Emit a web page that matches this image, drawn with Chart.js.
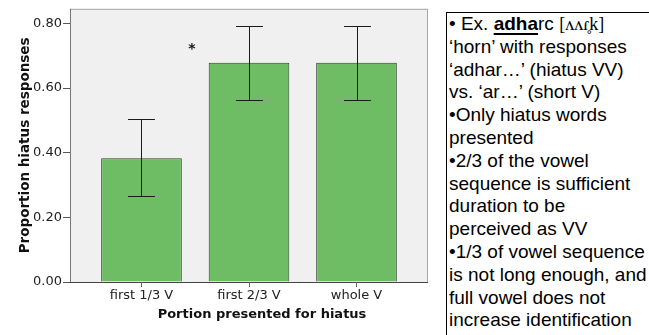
<!DOCTYPE html>
<html>
<head>
<meta charset="utf-8">
<script src="https://cdn.jsdelivr.net/npm/chart.js@4/dist/chart.umd.min.js"></script>
<style>
  html, body { margin: 0; padding: 0; background: #fff; }
  #wrap { position: relative; width: 649px; height: 335px; overflow: hidden; }
  #plot { position: absolute; left: 0; top: 0; width: 440px; height: 335px; }
  #notes {
    position: absolute; left: 446px; top: 12px; width: 220px; height: 340px;
    border-left: 1px solid #000; border-top: 1px solid #000;
    font-family: "Liberation Sans", Arial, sans-serif; font-size: 19px;
    line-height: 22.8px; color: #000; padding: 0 0 0 2px; box-sizing: border-box;
    white-space: nowrap;
  }
  #notes .inner { margin-top: 0; }
  #notes b { text-decoration: underline; text-decoration-thickness: 2px; text-underline-offset: 3px; }
  #notes .ipa { font-family: "Liberation Serif", "DejaVu Serif", serif; font-size: 18px; }
</style>
</head>
<body>
<div id="wrap">
  <div id="plot"><canvas id="chart" width="440" height="335"></canvas></div>
  <div id="notes"><div class="inner">
    • Ex. <b>adha</b>rc <span class="ipa">[ʌʌɾ̥k]</span><br>
    ‘horn’ with responses<br>
    ‘adhar…’ (hiatus VV)<br>
    vs. ‘ar…’ (short V)<br>
    •Only hiatus words<br>
    presented<br>
    •2/3 of the vowel<br>
    sequence is sufficient<br>
    duration to be<br>
    perceived as VV<br>
    •1/3 of vowel sequence<br>
    is not long enough, and<br>
    full vowel does not<br>
    increase identification
  </div></div>
</div>
<script>
// Portion of the vowel sequence presented, and the share of hiatus responses
const categories = ['first 1/3 V', 'first 2/3 V', 'whole V'];
const proportions = [0.383, 0.678, 0.678];
const ciLower = [0.265, 0.564, 0.564];
const ciUpper = [0.503, 0.793, 0.793];
const yTicks = [0, 0.2, 0.4, 0.6, 0.8];
const sigMark = { text: '*', x: 0.47, y: 0.732 };

const axisFont = { family: 'DejaVu Sans', size: 13 };
const titleFont = { family: 'DejaVu Sans', size: 13.5, weight: 'bold' };

// Grey plot panel with its frame
const panel = {
  id: 'panel',
  beforeDraw(chart) {
    const { ctx, chartArea: a } = chart;
    ctx.save();
    ctx.fillStyle = '#f0f0f0';
    ctx.fillRect(a.left, a.top, a.right - a.left, a.bottom - a.top);
    ctx.lineWidth = 1;
    ctx.strokeStyle = '#a8a8a8';
    ctx.strokeRect(a.left + 0.5, a.top + 0.5, a.right - a.left - 1, a.bottom - a.top);
    ctx.strokeStyle = '#777';
    ctx.beginPath();
    ctx.moveTo(a.left + 0.5, a.top);
    ctx.lineTo(a.left + 0.5, a.bottom);
    ctx.stroke();
    ctx.strokeStyle = '#444';
    ctx.beginPath();
    ctx.moveTo(a.left, a.bottom + 0.5);
    ctx.lineTo(a.right, a.bottom + 0.5);
    ctx.stroke();
    ctx.restore();
  }
};

// Confidence-interval whiskers, significance mark and x-axis title
const overlay = {
  id: 'overlay',
  afterDatasetsDraw(chart) {
    const { ctx, chartArea: a } = chart;
    const xs = chart.scales.x, ys = chart.scales.y;
    const bars = chart.getDatasetMeta(0).data;
    ctx.save();
    ctx.strokeStyle = '#1a1a1a';
    ctx.lineWidth = 1;
    categories.forEach((c, i) => {
      const x = Math.round(xs.getPixelForValue(i)) + 0.5;
      const half = bars[i].width / 6;
      const yHi = Math.round(ys.getPixelForValue(ciUpper[i])) + 0.5;
      const yLo = Math.round(ys.getPixelForValue(ciLower[i])) + 0.5;
      ctx.beginPath();
      ctx.moveTo(x, yHi); ctx.lineTo(x, yLo);
      ctx.moveTo(x - half, yHi); ctx.lineTo(x + half, yHi);
      ctx.moveTo(x - half, yLo); ctx.lineTo(x + half, yLo);
      ctx.stroke();
    });
    ctx.fillStyle = '#111';
    ctx.font = 'bold 14px "DejaVu Sans"';
    ctx.textAlign = 'center';
    ctx.textBaseline = 'alphabetic';
    ctx.fillText(sigMark.text, xs.getPixelForValue(sigMark.x), ys.getPixelForValue(sigMark.y) + 7.5);

    ctx.font = 'bold 13px "DejaVu Sans"';
    ctx.textBaseline = 'middle';
    ctx.fillText('Portion presented for hiatus', (a.left + a.right) / 2 + 13, 315);
    ctx.restore();
  }
};

new Chart(document.getElementById('chart'), {
  type: 'bar',
  data: {
    datasets: [{
      data: proportions.map((v, i) => ({ x: i, y: v })),
      backgroundColor: '#6ebc64',
      borderColor: '#2f3d2d',
      borderWidth: 1,
      borderSkipped: 'bottom',
      categoryPercentage: 1,
      barPercentage: 0.75
    }]
  },
  options: {
    responsive: false,
    animation: false,
    layout: { padding: { left: 0, top: 8, right: 12, bottom: 0 } },
    plugins: { legend: { display: false }, tooltip: { enabled: false } },
    scales: {
      x: {
        type: 'linear',
        min: -0.665,
        max: 2.665,
        offset: false,
        afterBuildTicks: s => { s.ticks = categories.map((c, i) => ({ value: i })); },
        afterFit: s => { s.height = 53; },
        ticks: {
          callback: v => categories[v],
          font: axisFont, color: '#222', padding: 1, maxRotation: 0, autoSkip: false
        },
        grid: { offset: false, drawOnChartArea: false, drawTicks: true, tickLength: 5, color: '#666' },
        border: { display: false }
      },
      y: {
        min: 0,
        max: 0.845,
        afterBuildTicks: s => { s.ticks = yTicks.map(v => ({ value: v })); },
        afterFit: s => { s.width = 70; },
        ticks: { callback: v => v.toFixed(2), font: axisFont, color: '#222', padding: 1 },
        grid: { drawOnChartArea: false, drawTicks: true, tickLength: 7, color: '#555' },
        border: { display: false },
        title: { display: true, text: 'Proportion hiatus responses', font: titleFont, color: '#111', padding: { top: 17, bottom: 0 } }
      }
    }
  },
  plugins: [panel, overlay]
});
</script>
</body>
</html>
